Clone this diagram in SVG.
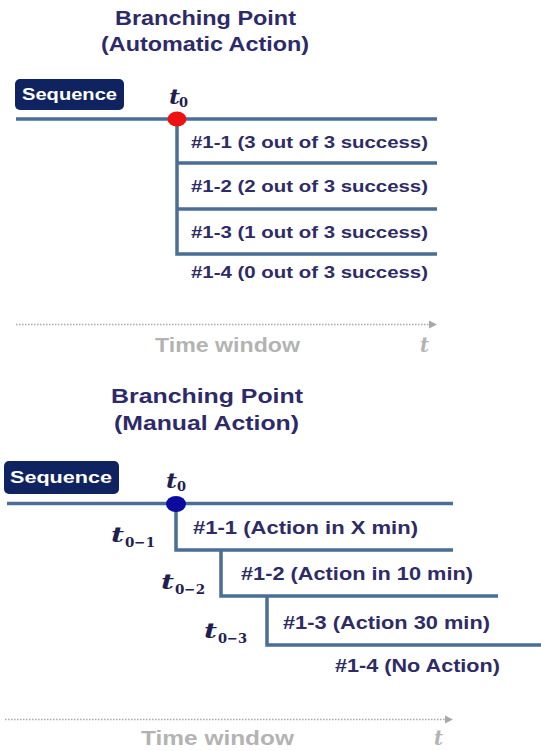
<svg xmlns="http://www.w3.org/2000/svg" width="541" height="751" viewBox="0 0 541 751">
  <defs>
    <style>
      .title { font-family: "Liberation Sans", Arial, sans-serif; font-weight: bold; font-size: 21px; fill: #2e2a6a; }
      .branch { font-family: "Liberation Sans", Arial, sans-serif; font-weight: bold; font-size: 16.5px; fill: #2e2b66; }
      .branch2 { font-family: "Liberation Sans", Arial, sans-serif; font-weight: bold; font-size: 17.5px; fill: #2e2b66; }
      .seqbox { fill: #0f2360; }
      .seqtext { font-family: "Liberation Sans", Arial, sans-serif; font-weight: bold; font-size: 17px; fill: #ffffff; }
      .tl { font-family: "DejaVu Serif", "Liberation Serif", serif; font-weight: bold; font-style: italic; font-size: 20px; fill: #1f2050; }
      .ts { font-family: "DejaVu Serif", "Liberation Serif", serif; font-weight: bold; font-size: 13px; fill: #1f2050; }
      .line { stroke: #4a6e96; stroke-width: 3.5; fill: none; stroke-linecap: butt; }
      .axis { stroke: #a8a8a8; stroke-width: 1.5; stroke-dasharray: 1.5 1.5; fill: none; }
      .axishead { fill: #a8a8a8; }
      .axistext { font-family: "Liberation Sans", Arial, sans-serif; font-weight: bold; font-size: 20px; fill: #b3b3b3; }
      .axist { font-family: "DejaVu Serif", "Liberation Serif", serif; font-style: italic; font-weight: bold; font-size: 20px; fill: #b3b3b3; }
    </style>
  </defs>

  <!-- Upper panel: automatic action -->
  <g id="title-auto">
    <text class="title" x="115" y="25" textLength="181" lengthAdjust="spacingAndGlyphs">Branching Point</text>
    <text class="title" x="101" y="51" textLength="208" lengthAdjust="spacingAndGlyphs">(Automatic Action)</text>
  </g>

  <g id="sequence-auto">
    <rect class="seqbox" x="15" y="79" width="109" height="31" rx="5"/>
    <text class="seqtext" x="22" y="100" textLength="95" lengthAdjust="spacingAndGlyphs">Sequence</text>
  </g>

  <g id="connectors-auto">
    <line class="line" x1="16" y1="119" x2="437" y2="119"/>
    <polyline class="line" points="177,119 177,254 437,254"/>
    <line class="line" x1="177" y1="163" x2="437" y2="163"/>
    <line class="line" x1="177" y1="209" x2="437" y2="209"/>
  </g>

  <g id="t0-auto">
    <text class="tl" x="169" y="104" textLength="11" lengthAdjust="spacingAndGlyphs">t</text>
    <text class="ts" x="179" y="107" textLength="9" lengthAdjust="spacingAndGlyphs">0</text>
  </g>

  <g id="point-auto">
    <ellipse cx="177" cy="119" rx="9.5" ry="7.5" fill="#ee1111"/>
  </g>

  <g id="branch-auto-1"><text class="branch" x="191" y="148" textLength="237" lengthAdjust="spacingAndGlyphs">#1-1 (3 out of 3 success)</text></g>
  <g id="branch-auto-2"><text class="branch" x="191" y="192" textLength="237" lengthAdjust="spacingAndGlyphs">#1-2 (2 out of 3 success)</text></g>
  <g id="branch-auto-3"><text class="branch" x="191" y="238" textLength="237" lengthAdjust="spacingAndGlyphs">#1-3 (1 out of 3 success)</text></g>
  <g id="branch-auto-4"><text class="branch" x="191" y="278" textLength="237" lengthAdjust="spacingAndGlyphs">#1-4 (0 out of 3 success)</text></g>

  <g id="axis-auto">
    <line class="axis" x1="16" y1="324.5" x2="430" y2="324.5"/>
    <polygon class="axishead" points="429,320.5 437,324.5 429,328.5"/>
    <text class="axistext" x="155" y="352" textLength="145" lengthAdjust="spacingAndGlyphs">Time window</text>
    <text class="axist" x="420" y="352" textLength="9" lengthAdjust="spacingAndGlyphs">t</text>
  </g>

  <!-- Lower panel: manual action -->
  <g id="title-manual">
    <text class="title" x="111" y="403" textLength="192" lengthAdjust="spacingAndGlyphs">Branching Point</text>
    <text class="title" x="114" y="430" textLength="185" lengthAdjust="spacingAndGlyphs">(Manual Action)</text>
  </g>

  <g id="sequence-manual">
    <rect class="seqbox" x="4" y="461" width="115" height="33" rx="5"/>
    <text class="seqtext" x="10" y="483" textLength="102" lengthAdjust="spacingAndGlyphs">Sequence</text>
  </g>

  <g id="connectors-manual">
    <line class="line" x1="7" y1="503.5" x2="453" y2="503.5"/>
    <polyline class="line" points="176,503.5 176,550 453,550"/>
    <polyline class="line" points="221,550 221,596 498,596"/>
    <polyline class="line" points="267,596 267,645 541,645"/>
  </g>

  <g id="t0-manual">
    <text class="tl" x="166" y="488" textLength="11" lengthAdjust="spacingAndGlyphs">t</text>
    <text class="ts" x="177" y="491" textLength="9" lengthAdjust="spacingAndGlyphs">0</text>
  </g>
  <g id="t01">
    <text class="tl" x="111" y="542" textLength="13" lengthAdjust="spacingAndGlyphs">t</text>
    <text class="ts" x="125" y="547" textLength="30" lengthAdjust="spacingAndGlyphs">0−1</text>
  </g>
  <g id="t02">
    <text class="tl" x="161" y="589" textLength="13" lengthAdjust="spacingAndGlyphs">t</text>
    <text class="ts" x="175" y="594" textLength="30" lengthAdjust="spacingAndGlyphs">0−2</text>
  </g>
  <g id="t03">
    <text class="tl" x="204" y="638" textLength="13" lengthAdjust="spacingAndGlyphs">t</text>
    <text class="ts" x="218" y="643" textLength="29" lengthAdjust="spacingAndGlyphs">0−3</text>
  </g>

  <g id="point-manual">
    <ellipse cx="176" cy="504" rx="10" ry="8" fill="#0b0b9e"/>
  </g>

  <g id="branch-manual-1"><text class="branch2" x="193" y="534" textLength="225" lengthAdjust="spacingAndGlyphs">#1-1 (Action in X min)</text></g>
  <g id="branch-manual-2"><text class="branch2" x="241" y="580" textLength="232" lengthAdjust="spacingAndGlyphs">#1-2 (Action in 10 min)</text></g>
  <g id="branch-manual-3"><text class="branch2" x="283" y="629" textLength="207" lengthAdjust="spacingAndGlyphs">#1-3 (Action 30 min)</text></g>
  <g id="branch-manual-4"><text class="branch2" x="335" y="672" textLength="165" lengthAdjust="spacingAndGlyphs">#1-4 (No Action)</text></g>

  <g id="axis-manual">
    <line class="axis" x1="5" y1="719.5" x2="446" y2="719.5"/>
    <polygon class="axishead" points="445,715.5 453,719.5 445,723.5"/>
    <text class="axistext" x="141" y="745" textLength="153" lengthAdjust="spacingAndGlyphs">Time window</text>
    <text class="axist" x="434" y="745" textLength="9" lengthAdjust="spacingAndGlyphs">t</text>
  </g>
</svg>
